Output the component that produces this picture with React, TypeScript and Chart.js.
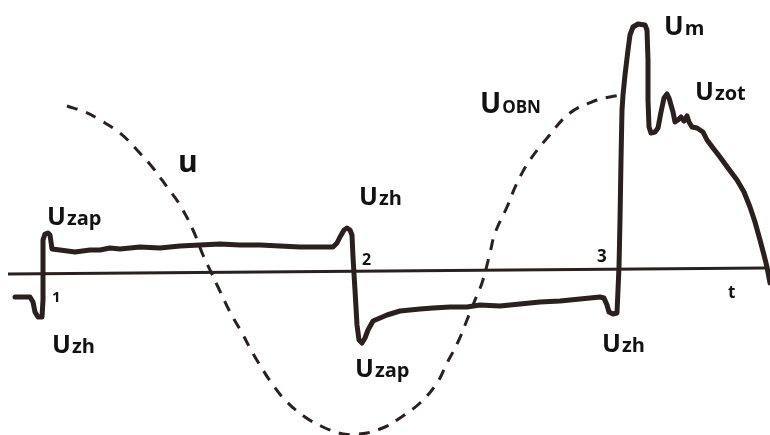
import React, { useEffect, useRef } from "react";
import { Chart, registerables } from "chart.js";

Chart.register(...registerables);

// time axis (arbitrary units along t) and arc voltage u (arbitrary units, 0 = t axis)
const arcTime = [
  15, 30, 33, 35, 38, 42, 43, 43, 43, 45, 48, 50, 51, 52, 60, 75, 90, 100, 110, 120, 140, 160, 180, 200,
  220, 240, 260, 280, 300, 320, 333, 337, 340, 344, 347, 350, 352, 353, 355, 357, 359, 362, 365, 368, 373,
  380, 387, 400, 420, 433, 450, 467, 480, 500, 520, 540, 560, 580, 600, 604, 607, 609, 613, 617, 618, 619,
  620, 621, 622, 623, 625, 628, 630, 633, 638, 645, 647, 648, 648, 649, 651, 655, 658, 661, 664, 667, 669,
  671, 673, 675, 678, 681, 684, 687, 689, 692, 697, 703, 707, 713, 720, 728, 737, 744, 750, 755, 760, 764,
  767, 770,
];
const arcVoltage = [
  -26, -26, -31, -41, -46, -46, -29, 11, 31, 37, 38, 36, 29, 22, 21, 19, 21, 21, 23, 22, 24, 23, 25, 26,
  27, 26, 26, 25, 24, 24, 24, 28, 34, 41, 43, 41, 36, 14, -19, -54, -69, -72, -67, -59, -50,
  -47, -44, -40, -38, -37, -36, -36, -34, -35, -33, -31, -30, -28, -26, -27, -34, -41, -43, -42, -19, 4,
  51, 111, 161, 176, 196, 221, 236, 244, 247, 246, 241, 211, 171, 144, 138, 139, 143, 159, 173, 177, 173,
  166, 159, 149, 151, 154, 150, 155, 149, 144, 143, 139, 131, 123, 114, 103, 91, 79, 64, 49, 31, 16,
  4, -12,
];

// network (source) voltage u, dashed
const supplyTime = [
  67, 85, 100, 120, 137, 153, 167, 180, 193, 203, 211, 218, 230, 242, 250, 258, 273, 287, 305, 323, 343,
  355, 367, 385, 397, 420, 437, 447, 458, 467, 475, 482, 490, 495, 507, 517, 530, 548, 570, 597, 610, 622,
];
const supplyVoltage = [
  165, 159, 151, 138, 121, 103, 84, 66, 41, 16, -1, -16, -41, -62, -77, -91, -114, -131, -146, -156, -163,
  -163, -162, -156, -149, -132, -112, -92, -71, -49, -29, -12, 18, 38, 64, 88, 111, 134, 158, 171, 174, 176,
];

// drawn time axis (slightly tilted, as in the scan)
const axisTime = [8, 765];
const axisLevel = [-3, 3];

// annotation texts: [main letter, subscript]
const labelTexts: [string, string][] = [
  ["U", "zap"],
  ["U", "zh"],
  ["1", ""],
  ["u", ""],
  ["U", "zh"],
  ["2", ""],
  ["U", "zap"],
  ["U", "OBN"],
  ["3", ""],
  ["U", "m"],
  ["U", "zot"],
  ["t", ""],
  ["U", "zh"],
];

// anchor of each annotation (left, baseline) in chart units
const labelAnchorT = [47, 52, 52, 178, 359, 362, 355, 480, 597, 664, 695, 728, 602];
const labelAnchorU = [46, -82, -31, 99, 66, 6, -106, 158, 9, 236, 171, -27, -81];
const labelSizes = [25, 25, 15, 30, 25, 16, 25, 28, 17, 26, 25, 17, 25];

const INK = "#2a2020";
const TEXT = "#121212";

const labelPlugin = {
  id: "arcLabels",
  afterDatasetsDraw(chart: any) {
    const { ctx, scales } = chart;
    ctx.save();
    ctx.fillStyle = TEXT;
    ctx.textBaseline = "alphabetic";
    ctx.textAlign = "left";
    labelTexts.forEach(([main, sub], i) => {
      const px = scales.x.getPixelForValue(labelAnchorT[i]);
      const py = scales.y.getPixelForValue(labelAnchorU[i]);
      const size = labelSizes[i];
      ctx.font = `bold ${size}px "Open Sans", "DejaVu Sans", sans-serif`;
      ctx.fillText(main, px, py);
      if (sub) {
        const w = ctx.measureText(main).width;
        const subSize = sub === "OBN" ? Math.round(size * 0.6) : Math.round(size * 0.78);
        ctx.font = `bold ${subSize}px "Open Sans", "DejaVu Sans", sans-serif`;
        ctx.fillText(sub, px + w + 1, py);
      }
    });
    ctx.restore();
  },
};

export default function App() {
  const canvasRef = useRef<HTMLCanvasElement | null>(null);

  useEffect(() => {
    document.body.style.margin = "0";
    const canvas = canvasRef.current;
    if (!canvas) return;
    const chart = new Chart(canvas, {
      type: "line",
      data: {
        datasets: [
          {
            label: "axis",
            data: axisTime.map((t, i) => ({ x: t, y: axisLevel[i] })),
            borderColor: INK,
            borderWidth: 3,
            pointRadius: 0,
            tension: 0,
          },
          {
            label: "u",
            data: supplyTime.map((t, i) => ({ x: t, y: supplyVoltage[i] })),
            borderColor: INK,
            borderWidth: 3,
            borderDash: [11, 9],
            pointRadius: 0,
            tension: 0.4,
          },
          {
            label: "arc",
            data: arcTime.map((t, i) => ({ x: t, y: arcVoltage[i] })),
            borderColor: INK,
            borderWidth: 5,
            borderCapStyle: "round",
            borderJoinStyle: "round",
            pointRadius: 0,
            tension: 0,
          },
        ],
      },
      options: {
        animation: false,
        responsive: false,
        devicePixelRatio: 1,
        layout: { padding: 0 },
        plugins: {
          legend: { display: false },
          tooltip: { enabled: false },
          title: { display: false },
        },
        scales: {
          x: { type: "linear", min: 0, max: 770, display: false },
          y: { type: "linear", min: -164, max: 271, display: false },
        },
      },
      plugins: [labelPlugin],
    });
    return () => chart.destroy();
  }, []);

  return (
    <div style={{ width: 770, height: 435, background: "#ffffff" }}>
      <canvas ref={canvasRef} width={770} height={435} />
    </div>
  );
}
